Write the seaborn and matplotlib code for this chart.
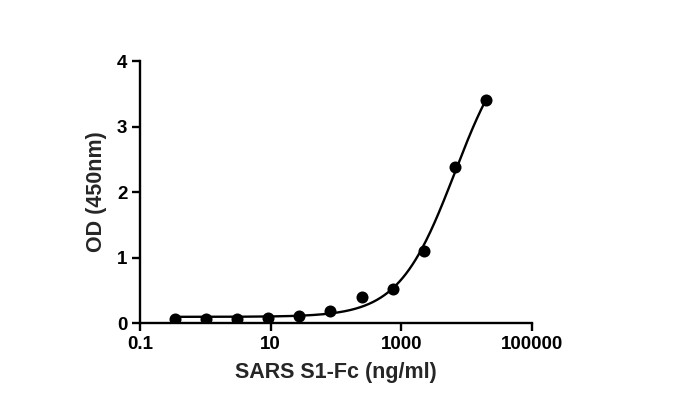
import numpy as np
import pandas as pd
import seaborn as sns
import matplotlib.pyplot as plt
from matplotlib.ticker import FixedLocator, NullLocator

conc = [0.34, 1.02, 3.05, 9.15, 27.4, 82.3, 247, 741, 2222, 6667, 20000]
od = [0.06, 0.06, 0.07, 0.08, 0.11, 0.19, 0.40, 0.52, 1.10, 2.38, 3.40]
x_ticks = [0.1, 10, 1000, 100000]
x_labels = ['0.1', '10', '1000', '100000']
y_ticks = [0, 1, 2, 3, 4]

df = pd.DataFrame({'conc': conc, 'od': od})


def fit_4pl(x, y):
    # crude 4PL fit: grid over slope/EC50, bottom and top by least squares
    x = np.asarray(x)
    y = np.asarray(y)
    best = None
    for h in np.linspace(0.6, 2.0, 141):
        for lec in np.linspace(2.5, 5.0, 251):
            s = 1 / (1 + (10 ** lec / x) ** h)
            A = np.column_stack([1 - s, s])
            coef, *_ = np.linalg.lstsq(A, y, rcond=None)
            err = np.sum((A @ coef - y) ** 2)
            if best is None or err < best[0]:
                best = (err, coef[0], coef[1], lec, h)
    return best[1:]


bottom, top, lec, h = fit_4pl(conc, od)
xs = np.logspace(np.log10(conc[0]), np.log10(conc[-1]), 300)
curve = pd.DataFrame({'conc': xs,
                      'od': bottom + (top - bottom) / (1 + (10 ** lec / xs) ** h)})

sns.set_style('ticks')
plt.rcParams['font.family'] = ['Liberation Sans', 'DejaVu Sans']
plt.rcParams['font.weight'] = 'bold'

fig = plt.figure(figsize=(6.76, 3.99), dpi=100)
ax = fig.add_axes([0.207, 0.19, 0.58, 0.657])

sns.lineplot(data=curve, x='conc', y='od', color='black', linewidth=1.7, ax=ax)
sns.scatterplot(data=df, x='conc', y='od', color='black', s=75,
                edgecolor='black', linewidth=0, ax=ax, zorder=3)

ax.set_xscale('log')
ax.set_xlim(0.1, 100000)
ax.set_ylim(0, 4)
ax.xaxis.set_major_locator(FixedLocator(x_ticks))
ax.xaxis.set_minor_locator(NullLocator())
ax.set_xticklabels(x_labels)
ax.set_yticks(y_ticks)

for side in ['top', 'right']:
    ax.spines[side].set_visible(False)
for side in ['left', 'bottom']:
    ax.spines[side].set_linewidth(1.7)
    ax.spines[side].set_color('black')
ax.tick_params(width=1.7, length=6, labelsize=13.5, colors='black', pad=3)
for lbl in ax.get_xticklabels() + ax.get_yticklabels():
    lbl.set_fontweight('bold')

ax.set_xlabel('SARS S1-Fc (ng/ml)', fontsize=15.5, fontweight='bold', labelpad=7)
ax.set_ylabel('OD (450nm)', fontsize=15.5, fontweight='bold', labelpad=7)

fig.savefig('out.png', dpi=100)
